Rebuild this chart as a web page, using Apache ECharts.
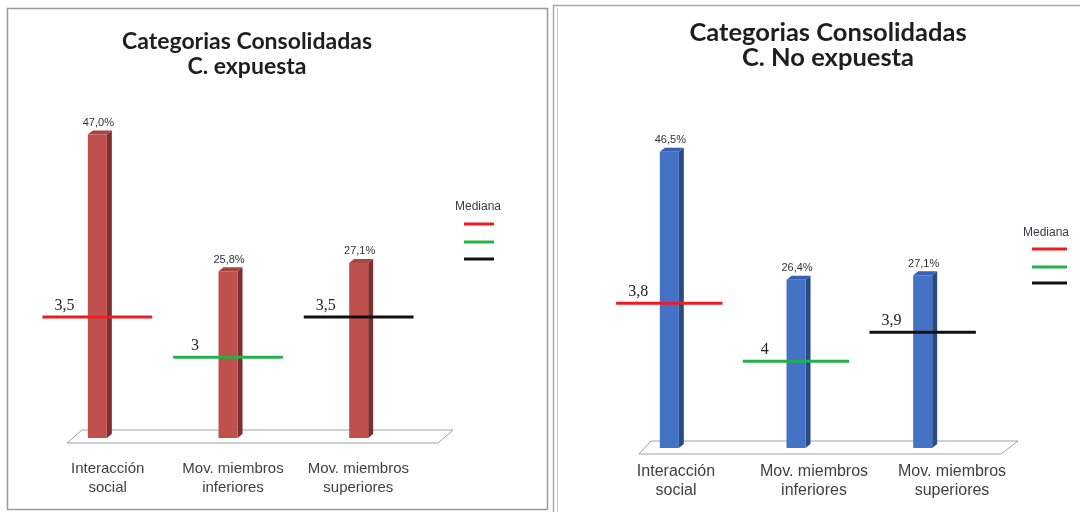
<!DOCTYPE html>
<html>
<head>
<meta charset="utf-8">
<script src="https://cdn.jsdelivr.net/npm/echarts@6/dist/echarts.min.js"></script>
<style>
  html, body { margin: 0; padding: 0; background: #ffffff; }
  #chart { width: 1080px; height: 512px; }
</style>
</head>
<body>
<div id="chart"></div>
<script>
// Categories shared by both panels
const categories = ['Interacción\nsocial', 'Mov. miembros\ninferiores', 'Mov. miembros\nsuperiores'];

// Percentages per category
const expuestaPct = [47.0, 25.8, 27.1];
const noExpuestaPct = [46.5, 26.4, 27.1];

// Median score per category
const expuestaMediana = [3.5, 3, 3.5];
const noExpuestaMediana = [3.8, 4, 3.9];

// Titles
const titleExpuesta = 'Categorias Consolidadas\nC. expuesta';
const titleNoExpuesta = 'Categorias Consolidadas\nC. No expuesta';
const legendTitle = 'Mediana';

const medianColors = ['#ec1c24', '#24b04a', '#111111'];
const redBar = { front: '#c0504d', side: '#7c2f2d', top: '#a54441' };
const blueBar = { front: '#4472c4', side: '#2a4a86', top: '#3862ae' };

const comma = (v, d) => v.toFixed(d).replace('.', ',');

// 3D-looking column: front face, darker side face and a thin top face
function bar3d(pal) {
  return function (params, api) {
    const i = api.value(0), v = api.value(1);
    const top = api.coord([i, v]);
    const base = api.coord([i, 0]);
    const w = 19, dx = 5, dy = 4;
    const l = top[0] - w / 2, r = top[0] + w / 2;
    return {
      type: 'group',
      children: [
        { type: 'polygon', shape: { points: [[r, top[1]], [r + dx, top[1] - dy], [r + dx, base[1] - dy], [r, base[1]]] },
          style: { fill: pal.side } },
        { type: 'polygon', shape: { points: [[l, top[1]], [l + dx, top[1] - dy], [r + dx, top[1] - dy], [r, top[1]]] },
          style: { fill: pal.top } },
        { type: 'rect', shape: { x: l, y: top[1], width: w, height: base[1] - top[1] },
          style: { fill: pal.front } },
        { type: 'text', x: top[0] + 1, y: top[1] - 6,
          style: { text: comma(v, 1) + '%', textAlign: 'center', textVerticalAlign: 'bottom',
                   fontFamily: 'Liberation Sans', fontSize: 11, fill: '#333333' } }
      ]
    };
  };
}

// Median marker: horizontal line across the category with its value above
function medianItem(params, api) {
  const i = api.value(0), v = api.value(1);
  const p = api.coord([i, v]);
  const half = api.size([1, 0])[0] * 0.42;
  return {
    type: 'group',
    children: [
      { type: 'line', shape: { x1: p[0] - half, y1: p[1], x2: p[0] + half, y2: p[1] },
        style: { stroke: medianColors[i], lineWidth: 3 } },
      { type: 'text', x: p[0] - half + 22, y: p[1] - 3,
        style: { text: Number.isInteger(v) ? String(v) : comma(v, 1), textAlign: 'center',
                 textVerticalAlign: 'bottom', fontFamily: 'Liberation Serif', fontSize: 16, fill: '#222222' } }
    ]
  };
}

const hiddenCat = (g) => ({ type: 'category', gridIndex: g, data: categories, show: false });
const labelCat = (g, size, margin) => ({
  type: 'category', gridIndex: g, data: categories,
  axisLine: { show: false }, axisTick: { show: false }, splitLine: { show: false },
  axisLabel: { show: true, interval: 0, margin: margin, fontFamily: 'Liberation Sans',
               fontSize: size, lineHeight: 19, color: '#404040' }
});
const hiddenVal = (g, min, max, inverse) => ({ type: 'value', gridIndex: g, min: min, max: max, inverse: !!inverse, show: false });

function legendBlock(cx, ty, x1, x2, ys) {
  const items = [{ type: 'text', x: cx, y: ty, z: 10,
    style: { text: legendTitle, textAlign: 'center', textVerticalAlign: 'middle',
             fontFamily: 'Liberation Sans', fontSize: 12, fill: '#3a3a48' } }];
  ys.forEach((y, k) => items.push({ type: 'line', z: 10,
    shape: { x1: x1, y1: y, x2: x2, y2: y }, style: { stroke: medianColors[k], lineWidth: 3 } }));
  return items;
}

const chart = echarts.init(document.getElementById('chart'), null, { renderer: 'canvas' });

chart.setOption({
  backgroundColor: '#ffffff',
  animation: false,
  grid: [
    { left: 32, top: 115, width: 392, height: 323 },
    { left: 45, top: 115, width: 376, height: 323 },
    { left: 606, top: 129.5, width: 380, height: 318.5 },
    { left: 607, top: 129.5, width: 414, height: 318.5 }
  ],
  xAxis: [
    hiddenCat(0),
    labelCat(1, 15, 21),
    hiddenCat(2),
    labelCat(3, 16, 14)
  ],
  yAxis: [
    hiddenVal(0, 0, 50),
    hiddenVal(0, 2, 6),
    hiddenVal(1, 0, 1),
    hiddenVal(2, 0, 50),
    hiddenVal(2, 3.2, 4.3, true),
    hiddenVal(3, 0, 1)
  ],
  series: [
    { type: 'custom', xAxisIndex: 0, yAxisIndex: 0, z: 3,
      data: expuestaPct.map((v, i) => [i, v]), renderItem: bar3d(redBar) },
    { type: 'custom', xAxisIndex: 0, yAxisIndex: 1, z: 4,
      data: expuestaMediana.map((v, i) => [i, v]), renderItem: medianItem },
    { type: 'custom', xAxisIndex: 2, yAxisIndex: 3, z: 3,
      data: noExpuestaPct.map((v, i) => [i, v]), renderItem: bar3d(blueBar) },
    { type: 'custom', xAxisIndex: 2, yAxisIndex: 4, z: 4,
      data: noExpuestaMediana.map((v, i) => [i, v]), renderItem: medianItem }
  ],
  graphic: [
    // panel frames
    { type: 'rect', z: 0, shape: { x: 7.5, y: 8.5, width: 540, height: 501 },
      style: { fill: 'none', stroke: '#9a9a9a', lineWidth: 1.5 } },
    { type: 'rect', z: 0, shape: { x: 553.5, y: 5.5, width: 540, height: 520 },
      style: { fill: 'none', stroke: '#a8a8a8', lineWidth: 1.5 } },
    { type: 'line', z: 0, shape: { x1: 557.5, y1: 8, x2: 557.5, y2: 512 },
      style: { stroke: '#c8c8c8', lineWidth: 1 } },
    // floors
    { type: 'polygon', z: 0, shape: { points: [[82, 430], [453, 430], [438, 443], [67, 443]] },
      style: { fill: '#ffffff', stroke: '#a0a0a0', lineWidth: 1 } },
    { type: 'polygon', z: 0, shape: { points: [[651, 441], [1018, 441], [1001, 454], [639, 454]] },
      style: { fill: '#ffffff', stroke: '#a0a0a0', lineWidth: 1 } },
    // titles
    { type: 'text', x: 247, y: 29, z: 10,
      style: { text: titleExpuesta, textAlign: 'center', textVerticalAlign: 'top', lineHeight: 25,
               fontFamily: 'Lato', fontWeight: 'bold', fontSize: 23, fill: '#1e1e1e' } },
    { type: 'text', x: 828, y: 20, z: 10,
      style: { text: titleNoExpuesta, textAlign: 'center', textVerticalAlign: 'top', lineHeight: 25,
               fontFamily: 'Lato', fontWeight: 'bold', fontSize: 25.5, fill: '#1e1e1e' } }
  ]
  .concat(legendBlock(478, 207, 464, 494, [224, 242, 259]))
  .concat(legendBlock(1046, 233, 1032, 1067, [249, 267, 283]))
});
</script>
</body>
</html>
